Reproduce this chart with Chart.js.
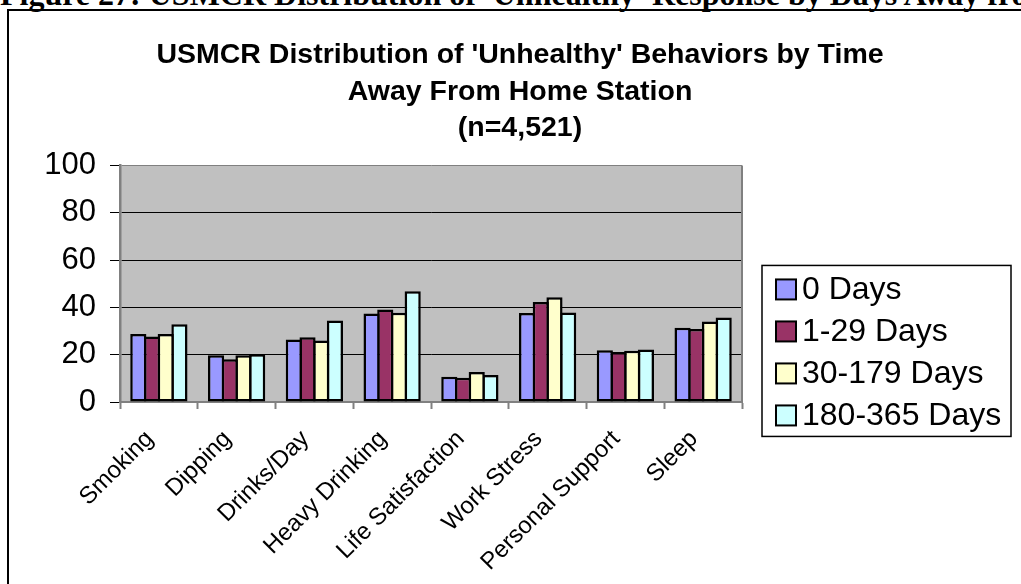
<!DOCTYPE html>
<html>
<head>
<meta charset="utf-8">
<title>USMCR Unhealthy Behaviors</title>
<script src="https://cdn.jsdelivr.net/npm/chart.js@4/dist/chart.umd.min.js"></script>
<style>
  html, body { margin: 0; padding: 0; background: #fff; }
  body { width: 1021px; height: 584px; overflow: hidden; position: relative; }
  #caption {
    position: absolute; left: 0; top: -22px; white-space: nowrap;
    font: bold 32px/32px "Liberation Serif", "Times New Roman", serif; color: #000;
  }
  #frame {
    position: absolute; left: 7px; top: 9px; width: 1100px; height: 700px;
    border: 2px solid #000;
  }
  #wrap { position: absolute; left: 9px; top: 11px; width: 1022px; height: 573px; }
</style>
</head>
<body>
<div id="caption">Figure 27: USMCR Distribution of 'Unhealthy' Response by Days Away from</div>
<div id="frame"></div>
<div id="wrap"><canvas id="unhealthyChart" width="1022" height="573"></canvas></div>
<script>
// categories and series (percent)
var categories = ["Smoking", "Dipping", "Drinks/Day", "Heavy Drinking", "Life Satisfaction", "Work Stress", "Personal Support", "Sleep"];
var seriesNames = ["0 Days", "1-29 Days", "30-179 Days", "180-365 Days"];
var days0 = [28.7, 19.8, 26.4, 37.4, 10.7, 37.6, 21.9, 31.4];
var days1to29 = [27.7, 18.1, 27.4, 39.1, 10.3, 42.3, 21.1, 30.9];
var days30to179 = [28.7, 19.8, 26.0, 37.7, 12.7, 44.3, 21.7, 34.0];
var days180to365 = [32.9, 20.2, 34.5, 46.8, 11.4, 37.8, 22.2, 35.7];
var seriesColors = ["#9999FF", "#993366", "#FFFFCC", "#CCFFFF"];
var yTicks = [0, 20, 40, 60, 80, 100];

var FONT = "'Liberation Sans', Arial, Helvetica, sans-serif";

// grey plot area with a grey frame
var plotArea = {
  id: "plotArea",
  beforeDraw: function (chart) {
    var a = chart.chartArea;
    var ctx = chart.ctx;
    ctx.save();
    ctx.fillStyle = "#C0C0C0";
    ctx.fillRect(a.left, a.top, a.right - a.left, a.bottom - a.top);
    ctx.restore();
  },
  beforeDatasetsDraw: function (chart) {
    var a = chart.chartArea;
    var ctx = chart.ctx;
    ctx.save();
    ctx.strokeStyle = "#808080";
    ctx.lineWidth = 2;
    ctx.beginPath();
    ctx.moveTo(a.right, a.top);
    ctx.lineTo(a.right, a.bottom);
    ctx.stroke();
    ctx.restore();
  }
};

// boxed legend to the right of the plot
var boxLegend = {
  id: "boxLegend",
  afterDraw: function (chart) {
    var a = chart.chartArea;
    var ctx = chart.ctx;
    var left = a.right + 20;
    var top = a.top + 100;
    ctx.save();
    ctx.strokeStyle = "#000";
    ctx.lineWidth = 1.5;
    ctx.strokeRect(left, top, 249, 171);
    ctx.font = "32px " + FONT;
    ctx.textBaseline = "middle";
    chart.data.datasets.forEach(function (ds, i) {
      var y = top + 24 + i * 42;
      ctx.fillStyle = ds.backgroundColor;
      ctx.fillRect(left + 14, y - 10, 20, 20);
      ctx.lineWidth = 2;
      ctx.strokeStyle = "#000";
      ctx.strokeRect(left + 14, y - 10, 20, 20);
      ctx.fillStyle = "#000";
      ctx.fillText(ds.label, left + 40, y + 1);
    });
    ctx.restore();
  }
};

var seriesValues = [days0, days1to29, days30to179, days180to365];
var datasets = [];
for (var i = 0; i < seriesNames.length; i++) {
  datasets.push({
    label: seriesNames[i],
    data: seriesValues[i],
    backgroundColor: seriesColors[i],
    borderColor: "#000",
    borderWidth: 2.5,
    borderSkipped: false,
    categoryPercentage: 0.705,
    barPercentage: 1.18
  });
}

var ctx = document.getElementById("unhealthyChart").getContext("2d");
var chart = new Chart(ctx, {
  type: "bar",
  data: {
    labels: categories,
    datasets: datasets
  },
  plugins: [plotArea, boxLegend],
  options: {
    responsive: false,
    animation: false,
    devicePixelRatio: 1,
    layout: { padding: 0 },
    plugins: {
      legend: { display: false },
      tooltip: { enabled: false },
      title: {
        display: true,
        text: ["USMCR Distribution of 'Unhealthy' Behaviors by Time", "Away From Home Station", "(n=4,521)"],
        color: "#000",
        font: { family: FONT, size: 28.5, weight: "bold", lineHeight: 1.28 },
        padding: { top: 26, bottom: 19 }
      }
    },
    scales: {
      x: {
        afterFit: function (scale) { scale.height = 182; },
        grid: {
          display: true,
          drawOnChartArea: false,
          offset: true,
          tickLength: 7,
          tickColor: "#808080",
          tickWidth: 2
        },
        border: { display: true, color: "#808080", width: 2 },
        ticks: {
          color: "#000",
          font: { family: FONT, size: 24 },
          minRotation: 45,
          maxRotation: 45,
          autoSkip: false,
          padding: 16,
          labelOffset: -9
        }
      },
      y: {
        min: 0,
        max: 100,
        afterFit: function (scale) { scale.width = 111; },
        afterBuildTicks: function (scale) {
          scale.ticks = yTicks.map(function (v) { return { value: v }; });
        },
        grid: {
          color: function (c) { return c.tick && c.tick.value === 100 ? "#808080" : "#000"; },
          lineWidth: 1,
          tickLength: 10,
          tickColor: "#000",
          tickWidth: 1
        },
        border: { display: true, color: "#808080", width: 2.5 },
        ticks: {
          color: "#000",
          font: { family: FONT, size: 31 },
          padding: 14
        }
      },
      // empty axis that keeps room for the legend on the right
      legendSpace: {
        type: "linear",
        axis: "y",
        position: "right",
        afterFit: function (scale) { scale.width = 289; },
        grid: { display: false },
        border: { display: false },
        ticks: { display: false }
      }
    }
  }
});
</script>
</body>
</html>
